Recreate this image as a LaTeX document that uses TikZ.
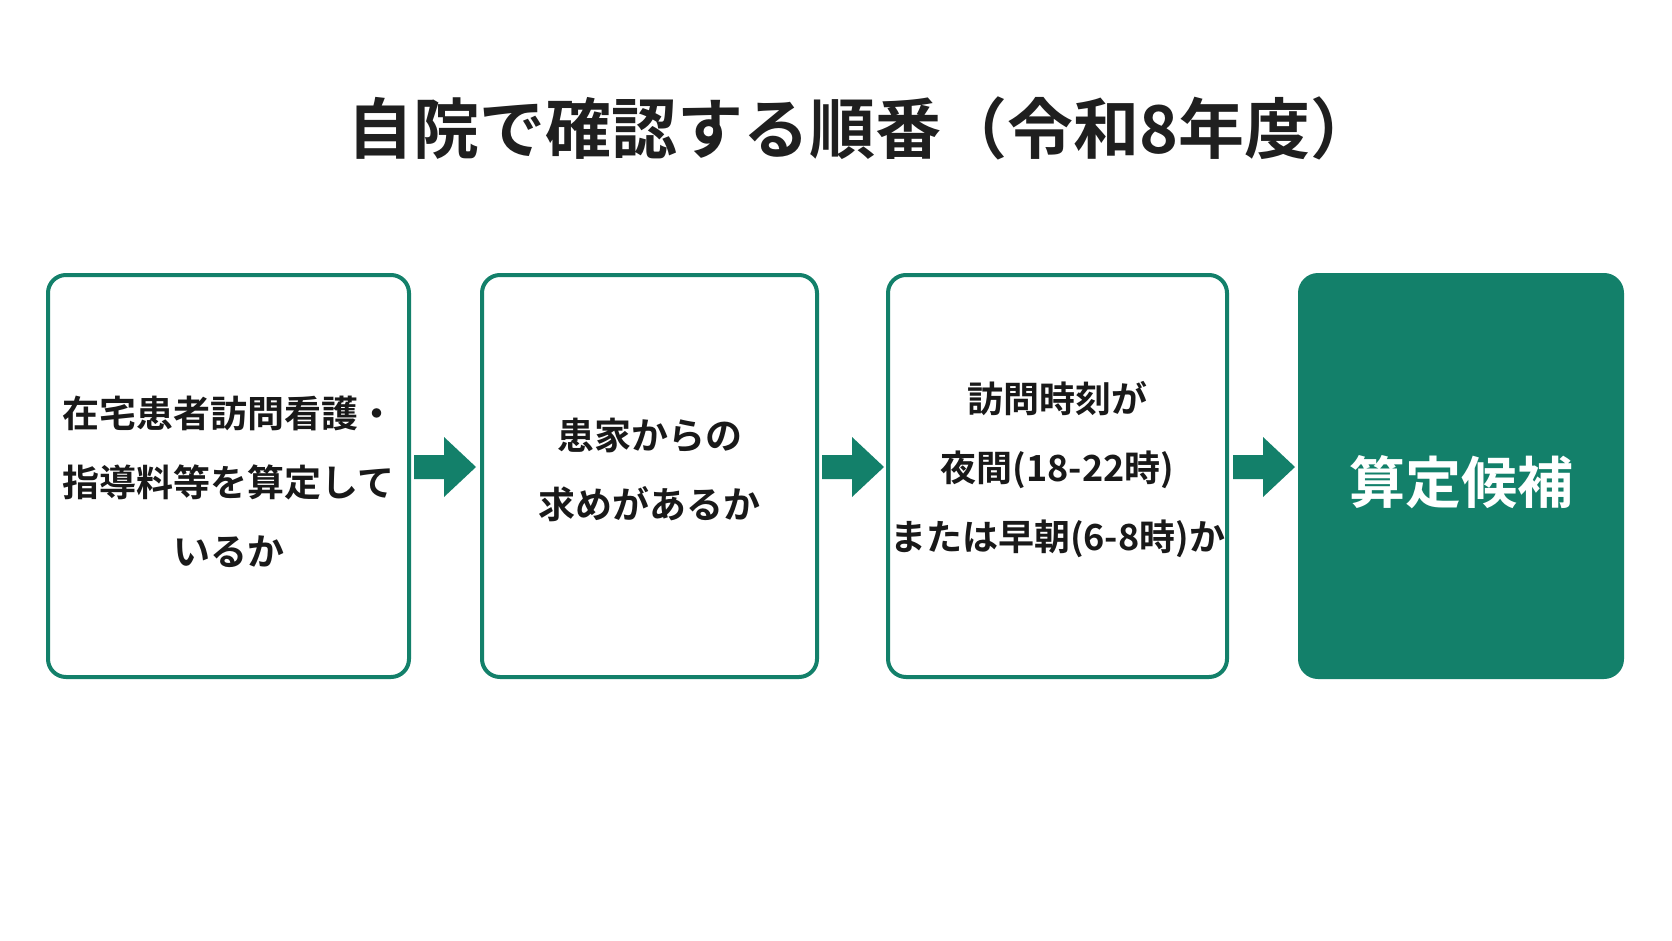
\documentclass[tikz,border=0pt]{standalone}
\usepackage{fontspec}
\setmainfont{Noto Sans CJK JP}[BoldFont={* Bold}]
\definecolor{grn}{HTML}{13806A}
\begin{document}
\begin{tikzpicture}[x=1pt,y=-1pt,
 box/.style={draw=grn,line width=4pt,rounded corners=18pt,fill=white},
 txt/.style={font=\bfseries\fontsize{37}{69}\selectfont,align=center,text=black!90},
 arr/.style={fill=grn}]
\useasboundingbox (0,0) rectangle (1672,941);
\fill[white] (0,0) rectangle (1672,941);
\node[font=\bfseries\fontsize{66}{70}\selectfont,text=black!88] (title) at (862,128) {自院で確認する順番（令和8年度）};
\draw[box] (48,275) rectangle (409,677); \node[txt] (t1) at (228.5,482) {在宅患者訪問看護・\\指導料等を算定して\\いるか};
\draw[box] (482,275) rectangle (817,677); \node[txt] (t2) at (649.5,470) {患家からの\\求めがあるか};
\draw[box] (888,275) rectangle (1227,677); \node[txt,font=\bfseries\fontsize{36}{69}\selectfont] (t3) at (1057.5,470) {訪問時刻が\\夜間(18-22時)\\または早朝(6-8時)か};
\fill[grn,rounded corners=20pt] (1298,273) rectangle (1624,679);
\node[font=\bfseries\fontsize{56}{60}\selectfont,text=white] (t4) at (1461,482) {算定候補};
\foreach \x in {414,822,1233}{
 \fill[grn] (\x,455) -- (\x+30,455) -- (\x+30,437) -- (\x+62,467) -- (\x+30,497) -- (\x+30,479) -- (\x,479) -- cycle;}
\end{tikzpicture}
\end{document}
